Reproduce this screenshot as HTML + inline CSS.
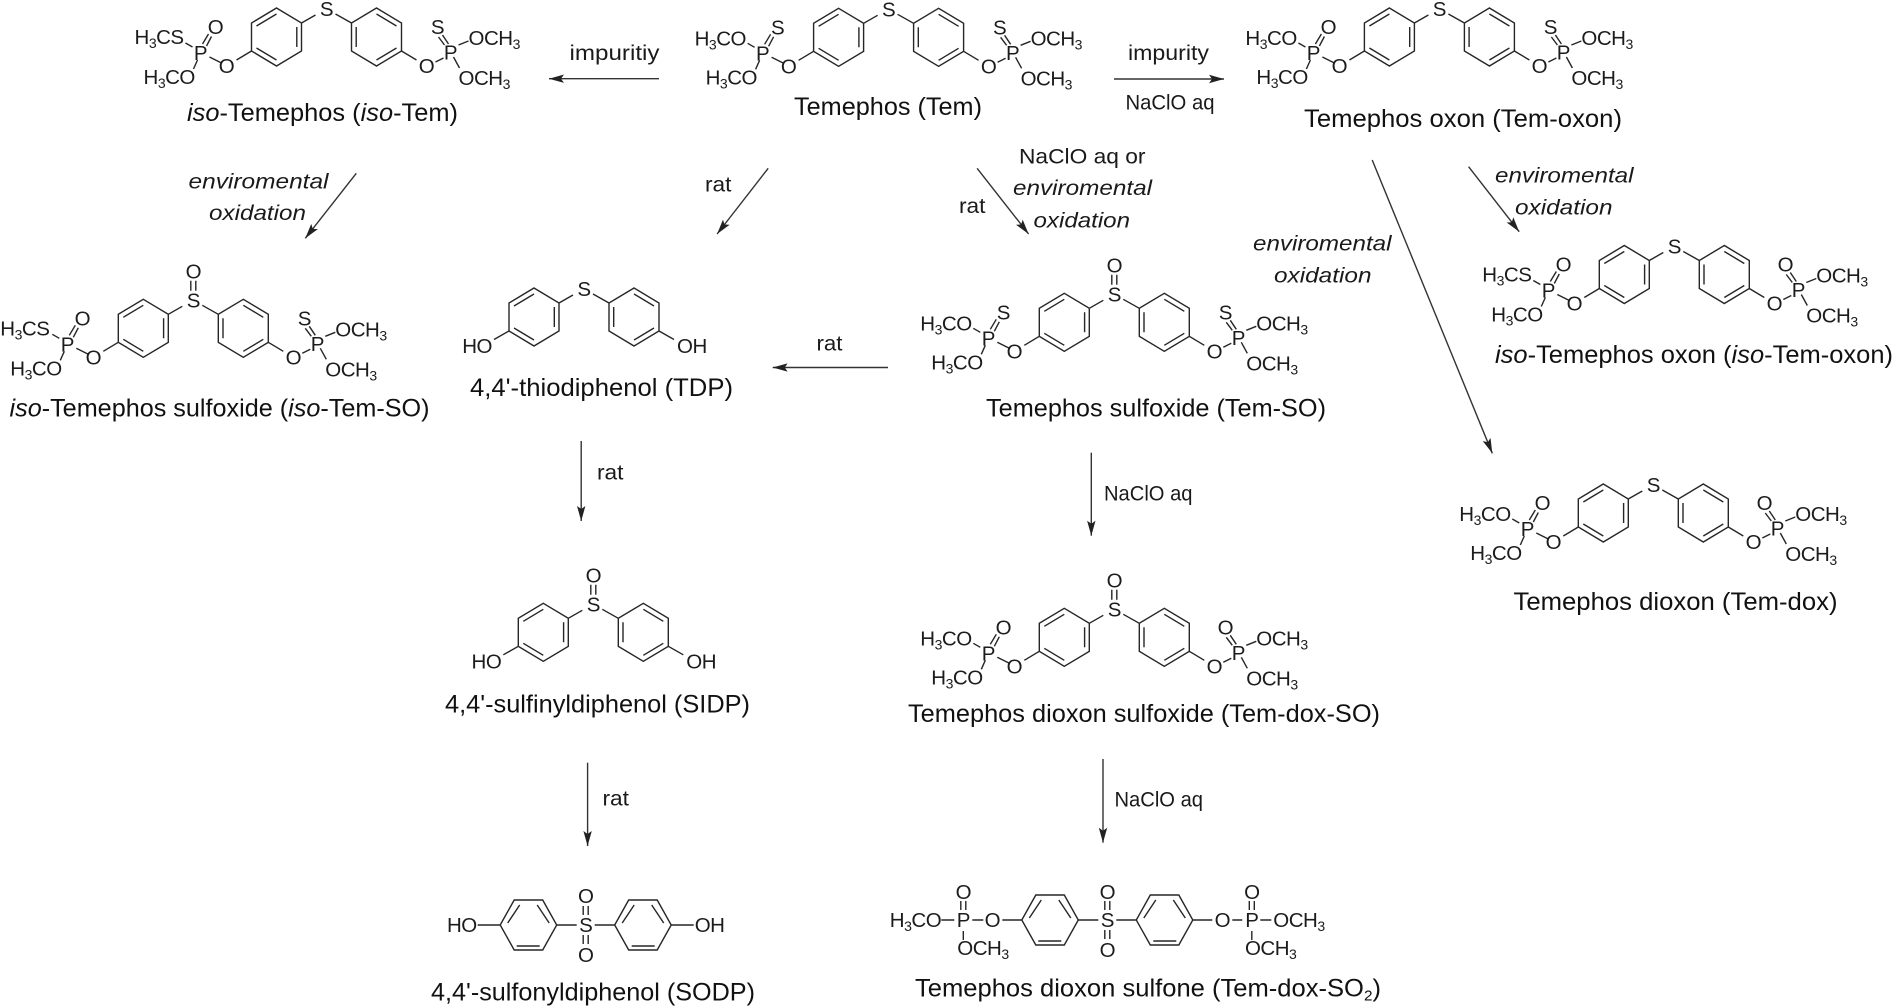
<!DOCTYPE html>
<html><head><meta charset="utf-8"><title>Temephos pathways</title>
<style>
html,body{margin:0;padding:0;background:#fff}
svg{display:block}
text{font-family:"Liberation Sans",sans-serif}
.m{font-size:20.5px;fill:#1c1c1c;letter-spacing:-.5px}
.s{font-size:14px}
.t{text-anchor:middle}
.c{font-size:25px;fill:#111}
.l{font-size:21px;fill:#1a1a1a}
.i{font-style:italic}
.b{fill:none;stroke:#262626;stroke-width:1.4}
.a{stroke:#333;stroke-width:1.4;fill:none;marker-end:url(#ah)}
</style></head><body>
<svg xmlns="http://www.w3.org/2000/svg" width="1895" height="1008" viewBox="0 0 1895 1008">
<defs>
<marker id="ah" markerUnits="userSpaceOnUse" markerWidth="18" markerHeight="12" refX="15" refY="6" orient="auto"><path d="M0,1.8 L15,6 L0,10.2 L3,6z" fill="#222"/></marker>
<g id="core" class="b"><path d="M-50,-1L-25,14V42L-50,57L-75,42V14Z M50,-1L25,14V42L50,57L75,42V14Z M-70,17L-50,5 M-29.7,18V38 M-50,51L-70,39 M70,17L50,5 M29.7,18V38 M50,51L70,39 M-25,14L-11,6 M25,14L9,5"/></g>
<g id="sox" class="b"><path d="M-2.5,-19.5V-9.5 M2.5,-19.5V-9.5"/></g>
<g id="arms" class="b"><path d="M-75,42L-90,51 M-117,48L-105,54 M-141,34L-134,38 M-129,51L-133,60 M-124,35L-118,25 M-120,37L-115,27.5 M75,42L90,51 M109,53L117,49 M132,36L142,32 M127,48L133,59 M116,26L122,35 M112,28L118,36"/></g>
<g id="ph" class="b"><path d="M-75,42L-90,50.5 M75,42L90,50.5"/></g>
<g id="flat" class="b"><path d="M-85.5,0L-71.5,-25H-43L-29,0L-43,25H-71.5Z M-78,-2L-66,-20 M-48.5,-20L-36.5,-2 M-69,21H-46 M29,0L43,-25H71.5L85.5,0L71.5,25H43Z M36.5,-2L48.5,-20 M66,-20L78,-2 M46,21H69 M-29,0H-9 M9,0H29 M-2.5,-19V-10 M2.5,-19V-10 M-2.5,10V19 M2.5,10V19"/></g>
</defs>
<rect width="1895" height="1008" fill="#fff"/>

<!-- iso-Tem -->
<g transform="translate(326.5,9)" class="m"><use href="#core"/><use href="#arms"/>
<text x="0" y="7" class="t">S</text>
<text x="-192" y="35">H<tspan class="s" dy="4">3</tspan><tspan dy="-4">CS</tspan></text>
<text x="-183" y="75">H<tspan class="s" dy="4">3</tspan><tspan dy="-4">CO</tspan></text>
<text x="-111" y="25" class="t">O</text><text x="-126" y="51" class="t">P</text><text x="-100" y="64" class="t">O</text>
<text x="100" y="64" class="t">O</text><text x="124" y="50.5" class="t">P</text><text x="111" y="25" class="t">S</text>
<text x="142" y="36">OCH<tspan class="s" dy="4">3</tspan></text><text x="132" y="76">OCH<tspan class="s" dy="4">3</tspan></text></g>

<!-- Tem -->
<g transform="translate(888.6,9.3)" class="m"><use href="#core"/><use href="#arms"/>
<text x="0" y="7" class="t">S</text>
<text x="-194" y="36">H<tspan class="s" dy="4">3</tspan><tspan dy="-4">CO</tspan></text>
<text x="-183" y="75">H<tspan class="s" dy="4">3</tspan><tspan dy="-4">CO</tspan></text>
<text x="-111" y="25" class="t">S</text><text x="-126" y="51" class="t">P</text><text x="-100" y="64" class="t">O</text>
<text x="100" y="64" class="t">O</text><text x="124" y="50.5" class="t">P</text><text x="111" y="25" class="t">S</text>
<text x="142" y="36">OCH<tspan class="s" dy="4">3</tspan></text><text x="132" y="76">OCH<tspan class="s" dy="4">3</tspan></text></g>

<!-- Tem-oxon -->
<g transform="translate(1439.4,9)" class="m"><use href="#core"/><use href="#arms"/>
<text x="0" y="7" class="t">S</text>
<text x="-194" y="36">H<tspan class="s" dy="4">3</tspan><tspan dy="-4">CO</tspan></text>
<text x="-183" y="75">H<tspan class="s" dy="4">3</tspan><tspan dy="-4">CO</tspan></text>
<text x="-111" y="25" class="t">O</text><text x="-126" y="51" class="t">P</text><text x="-100" y="64" class="t">O</text>
<text x="100" y="64" class="t">O</text><text x="124" y="50.5" class="t">P</text><text x="111" y="25" class="t">S</text>
<text x="142" y="36">OCH<tspan class="s" dy="4">3</tspan></text><text x="132" y="76">OCH<tspan class="s" dy="4">3</tspan></text></g>

<!-- iso-Tem-oxon -->
<g transform="translate(1674.3,246.5)" class="m"><use href="#core"/><use href="#arms"/>
<text x="0" y="7" class="t">S</text>
<text x="-192" y="35">H<tspan class="s" dy="4">3</tspan><tspan dy="-4">CS</tspan></text>
<text x="-183" y="75">H<tspan class="s" dy="4">3</tspan><tspan dy="-4">CO</tspan></text>
<text x="-111" y="25" class="t">O</text><text x="-126" y="51" class="t">P</text><text x="-100" y="64" class="t">O</text>
<text x="100" y="64" class="t">O</text><text x="124" y="50.5" class="t">P</text><text x="111" y="25" class="t">O</text>
<text x="142" y="36">OCH<tspan class="s" dy="4">3</tspan></text><text x="132" y="76">OCH<tspan class="s" dy="4">3</tspan></text></g>

<!-- iso-Tem-SO -->
<g transform="translate(193.3,300.3)" class="m"><use href="#core"/><use href="#arms"/><use href="#sox"/>
<text x="0" y="7" class="t">S</text><text x="0" y="-22" class="t">O</text>
<text x="-193" y="35">H<tspan class="s" dy="4">3</tspan><tspan dy="-4">CS</tspan></text>
<text x="-183" y="75">H<tspan class="s" dy="4">3</tspan><tspan dy="-4">CO</tspan></text>
<text x="-111" y="25" class="t">O</text><text x="-126" y="51" class="t">P</text><text x="-100" y="64" class="t">O</text>
<text x="100" y="64" class="t">O</text><text x="124" y="50.5" class="t">P</text><text x="111" y="25" class="t">S</text>
<text x="142" y="36">OCH<tspan class="s" dy="4">3</tspan></text><text x="132" y="76">OCH<tspan class="s" dy="4">3</tspan></text></g>

<!-- Tem-SO -->
<g transform="translate(1114.3,294.3)" class="m"><use href="#core"/><use href="#arms"/><use href="#sox"/>
<text x="0" y="7" class="t">S</text><text x="0" y="-22" class="t">O</text>
<text x="-194" y="36">H<tspan class="s" dy="4">3</tspan><tspan dy="-4">CO</tspan></text>
<text x="-183" y="75">H<tspan class="s" dy="4">3</tspan><tspan dy="-4">CO</tspan></text>
<text x="-111" y="25" class="t">S</text><text x="-126" y="51" class="t">P</text><text x="-100" y="64" class="t">O</text>
<text x="100" y="64" class="t">O</text><text x="124" y="50.5" class="t">P</text><text x="111" y="25" class="t">S</text>
<text x="142" y="36">OCH<tspan class="s" dy="4">3</tspan></text><text x="132" y="76">OCH<tspan class="s" dy="4">3</tspan></text></g>

<!-- Tem-dox -->
<g transform="translate(1653.3,485)" class="m"><use href="#core"/><use href="#arms"/>
<text x="0" y="7" class="t">S</text>
<text x="-194" y="36">H<tspan class="s" dy="4">3</tspan><tspan dy="-4">CO</tspan></text>
<text x="-183" y="75">H<tspan class="s" dy="4">3</tspan><tspan dy="-4">CO</tspan></text>
<text x="-111" y="25" class="t">O</text><text x="-126" y="51" class="t">P</text><text x="-100" y="64" class="t">O</text>
<text x="100" y="64" class="t">O</text><text x="124" y="50.5" class="t">P</text><text x="111" y="25" class="t">O</text>
<text x="142" y="36">OCH<tspan class="s" dy="4">3</tspan></text><text x="132" y="76">OCH<tspan class="s" dy="4">3</tspan></text></g>

<!-- Tem-dox-SO -->
<g transform="translate(1114.3,609.3)" class="m"><use href="#core"/><use href="#arms"/><use href="#sox"/>
<text x="0" y="7" class="t">S</text><text x="0" y="-22" class="t">O</text>
<text x="-194" y="36">H<tspan class="s" dy="4">3</tspan><tspan dy="-4">CO</tspan></text>
<text x="-183" y="75">H<tspan class="s" dy="4">3</tspan><tspan dy="-4">CO</tspan></text>
<text x="-111" y="25" class="t">O</text><text x="-126" y="51" class="t">P</text><text x="-100" y="64" class="t">O</text>
<text x="100" y="64" class="t">O</text><text x="124" y="50.5" class="t">P</text><text x="111" y="25" class="t">O</text>
<text x="142" y="36">OCH<tspan class="s" dy="4">3</tspan></text><text x="132" y="76">OCH<tspan class="s" dy="4">3</tspan></text></g>

<!-- TDP -->
<g transform="translate(584,289)" class="m"><use href="#core"/><use href="#ph"/>
<text x="0" y="7" class="t">S</text>
<text x="-92" y="64" text-anchor="end">HO</text><text x="93" y="64">OH</text></g>

<!-- SIDP -->
<g transform="translate(593.3,604.3)" class="m"><use href="#core"/><use href="#ph"/><use href="#sox"/>
<text x="0" y="7" class="t">S</text><text x="0" y="-22" class="t">O</text>
<text x="-92" y="64" text-anchor="end">HO</text><text x="93" y="64">OH</text></g>

<!-- SODP -->
<g transform="translate(585.7,925)" class="m"><use href="#flat"/>
<path class="b" d="M-85.5,0H-108 M85.5,0H108"/>
<text x="0" y="7" class="t">S</text><text x="0" y="-22" class="t">O</text><text x="0" y="37" class="t">O</text>
<text x="-109" y="7" text-anchor="end">HO</text><text x="109" y="7">OH</text></g>

<!-- Tem-dox-SO2 -->
<g transform="translate(1107.3,920)" class="m"><use href="#flat"/>
<path class="b" d="M-85.5,0H-105 M-124,0H-135 M-153,0H-166 M-144,11V20 M-146.5,-19V-10 M-141.5,-19V-10 M85.5,0H105 M125,0H135 M153,0H164 M144.5,11V20 M142,-19V-10 M147,-19V-10"/>
<text x="0" y="7" class="t">S</text><text x="0" y="-21" class="t">O</text><text x="0" y="37" class="t">O</text>
<text x="-217.5" y="7">H<tspan class="s" dy="4">3</tspan><tspan dy="-4">CO</tspan></text>
<text x="-144" y="7" class="t">P</text><text x="-115" y="7" class="t">O</text><text x="-144" y="-21" class="t">O</text>
<text x="-150" y="35">OCH<tspan class="s" dy="4">3</tspan></text>
<text x="115" y="7" class="t">O</text><text x="144.5" y="7" class="t">P</text><text x="144.5" y="-21" class="t">O</text>
<text x="166" y="7">OCH<tspan class="s" dy="4">3</tspan></text>
<text x="137.7" y="35">OCH<tspan class="s" dy="4">3</tspan></text></g>

<!-- captions -->
<text class="c" x="187" y="121" textLength="271" lengthAdjust="spacingAndGlyphs"><tspan class="i">iso</tspan>-Temephos (<tspan class="i">iso</tspan>-Tem)</text>
<text class="c" x="794" y="115" textLength="188" lengthAdjust="spacingAndGlyphs">Temephos (Tem)</text>
<text class="c" x="1304" y="127" textLength="318" lengthAdjust="spacingAndGlyphs">Temephos oxon (Tem-oxon)</text>
<text class="c" x="9.5" y="416.5" textLength="420" lengthAdjust="spacingAndGlyphs"><tspan class="i">iso</tspan>-Temephos sulfoxide (<tspan class="i">iso</tspan>-Tem-SO)</text>
<text class="c" x="470" y="396" textLength="263" lengthAdjust="spacingAndGlyphs">4,4'-thiodiphenol (TDP)</text>
<text class="c" x="986" y="416.5" textLength="340" lengthAdjust="spacingAndGlyphs">Temephos sulfoxide (Tem-SO)</text>
<text class="c" x="1495" y="363" textLength="398" lengthAdjust="spacingAndGlyphs"><tspan class="i">iso</tspan>-Temephos oxon (<tspan class="i">iso</tspan>-Tem-oxon)</text>
<text class="c" x="1513.5" y="610" textLength="324" lengthAdjust="spacingAndGlyphs">Temephos dioxon (Tem-dox)</text>
<text class="c" x="445" y="712.5" textLength="305" lengthAdjust="spacingAndGlyphs">4,4'-sulfinyldiphenol (SIDP)</text>
<text class="c" x="908" y="722" textLength="472" lengthAdjust="spacingAndGlyphs">Temephos dioxon sulfoxide (Tem-dox-SO)</text>
<text class="c" x="431" y="1000.5" textLength="324" lengthAdjust="spacingAndGlyphs">4,4'-sulfonyldiphenol (SODP)</text>
<text class="c" x="915" y="996.5" textLength="466" lengthAdjust="spacingAndGlyphs">Temephos dioxon sulfone (Tem-dox-SO<tspan font-size="15" dy="4">2</tspan><tspan dy="-4">)</tspan></text>

<!-- arrow labels -->
<text class="l" x="569.5" y="60" textLength="90" lengthAdjust="spacingAndGlyphs">impuritiy</text>
<text class="l" x="1128" y="60" textLength="81" lengthAdjust="spacingAndGlyphs">impurity</text>
<text class="l" x="1125.5" y="109.5" textLength="89" lengthAdjust="spacingAndGlyphs">NaClO aq</text>
<text class="l" x="705" y="191.5" textLength="26.5" lengthAdjust="spacingAndGlyphs">rat</text>
<text class="l" x="959" y="213" textLength="26.5" lengthAdjust="spacingAndGlyphs">rat</text>
<text class="l" x="1019" y="163.5" textLength="126.5" lengthAdjust="spacingAndGlyphs">NaClO aq or</text>
<text class="l i" x="1013" y="195" textLength="139" lengthAdjust="spacingAndGlyphs">enviromental</text>
<text class="l i" x="1033.5" y="227.5" textLength="96.5" lengthAdjust="spacingAndGlyphs">oxidation</text>
<text class="l i" x="188.5" y="188.5" textLength="140" lengthAdjust="spacingAndGlyphs">enviromental</text>
<text class="l i" x="209" y="220" textLength="97" lengthAdjust="spacingAndGlyphs">oxidation</text>
<text class="l i" x="1495" y="182.5" textLength="138.5" lengthAdjust="spacingAndGlyphs">enviromental</text>
<text class="l i" x="1515" y="214.5" textLength="97.5" lengthAdjust="spacingAndGlyphs">oxidation</text>
<text class="l i" x="1253" y="250.5" textLength="138.5" lengthAdjust="spacingAndGlyphs">enviromental</text>
<text class="l i" x="1274" y="282.5" textLength="97.5" lengthAdjust="spacingAndGlyphs">oxidation</text>
<text class="l" x="816.5" y="350.5" textLength="26" lengthAdjust="spacingAndGlyphs">rat</text>
<text class="l" x="597" y="479.5" textLength="26.5" lengthAdjust="spacingAndGlyphs">rat</text>
<text class="l" x="1104" y="500.5" textLength="88.5" lengthAdjust="spacingAndGlyphs">NaClO aq</text>
<text class="l" x="602.5" y="805.5" textLength="26.5" lengthAdjust="spacingAndGlyphs">rat</text>
<text class="l" x="1114.5" y="806.5" textLength="88.5" lengthAdjust="spacingAndGlyphs">NaClO aq</text>

<!-- arrows -->
<line class="a" x1="659" y1="78.7" x2="549" y2="78.7"/>
<line class="a" x1="1114" y1="79" x2="1224" y2="79"/>
<line class="a" x1="356.3" y1="173.3" x2="305.3" y2="238.3"/>
<line class="a" x1="768.2" y1="168.3" x2="717.1" y2="234"/>
<line class="a" x1="977.1" y1="168.3" x2="1028.6" y2="234"/>
<line class="a" x1="1372.2" y1="160" x2="1492.3" y2="453.3"/>
<line class="a" x1="1468.6" y1="166.7" x2="1519.2" y2="231.7"/>
<line class="a" x1="888" y1="367.5" x2="772.7" y2="367.5"/>
<line class="a" x1="581.2" y1="441" x2="581.2" y2="521"/>
<line class="a" x1="1091.3" y1="452.7" x2="1091.3" y2="535.7"/>
<line class="a" x1="587.6" y1="762.7" x2="587.6" y2="846"/>
<line class="a" x1="1103" y1="759" x2="1103" y2="842.7"/>
</svg>
</body></html>
